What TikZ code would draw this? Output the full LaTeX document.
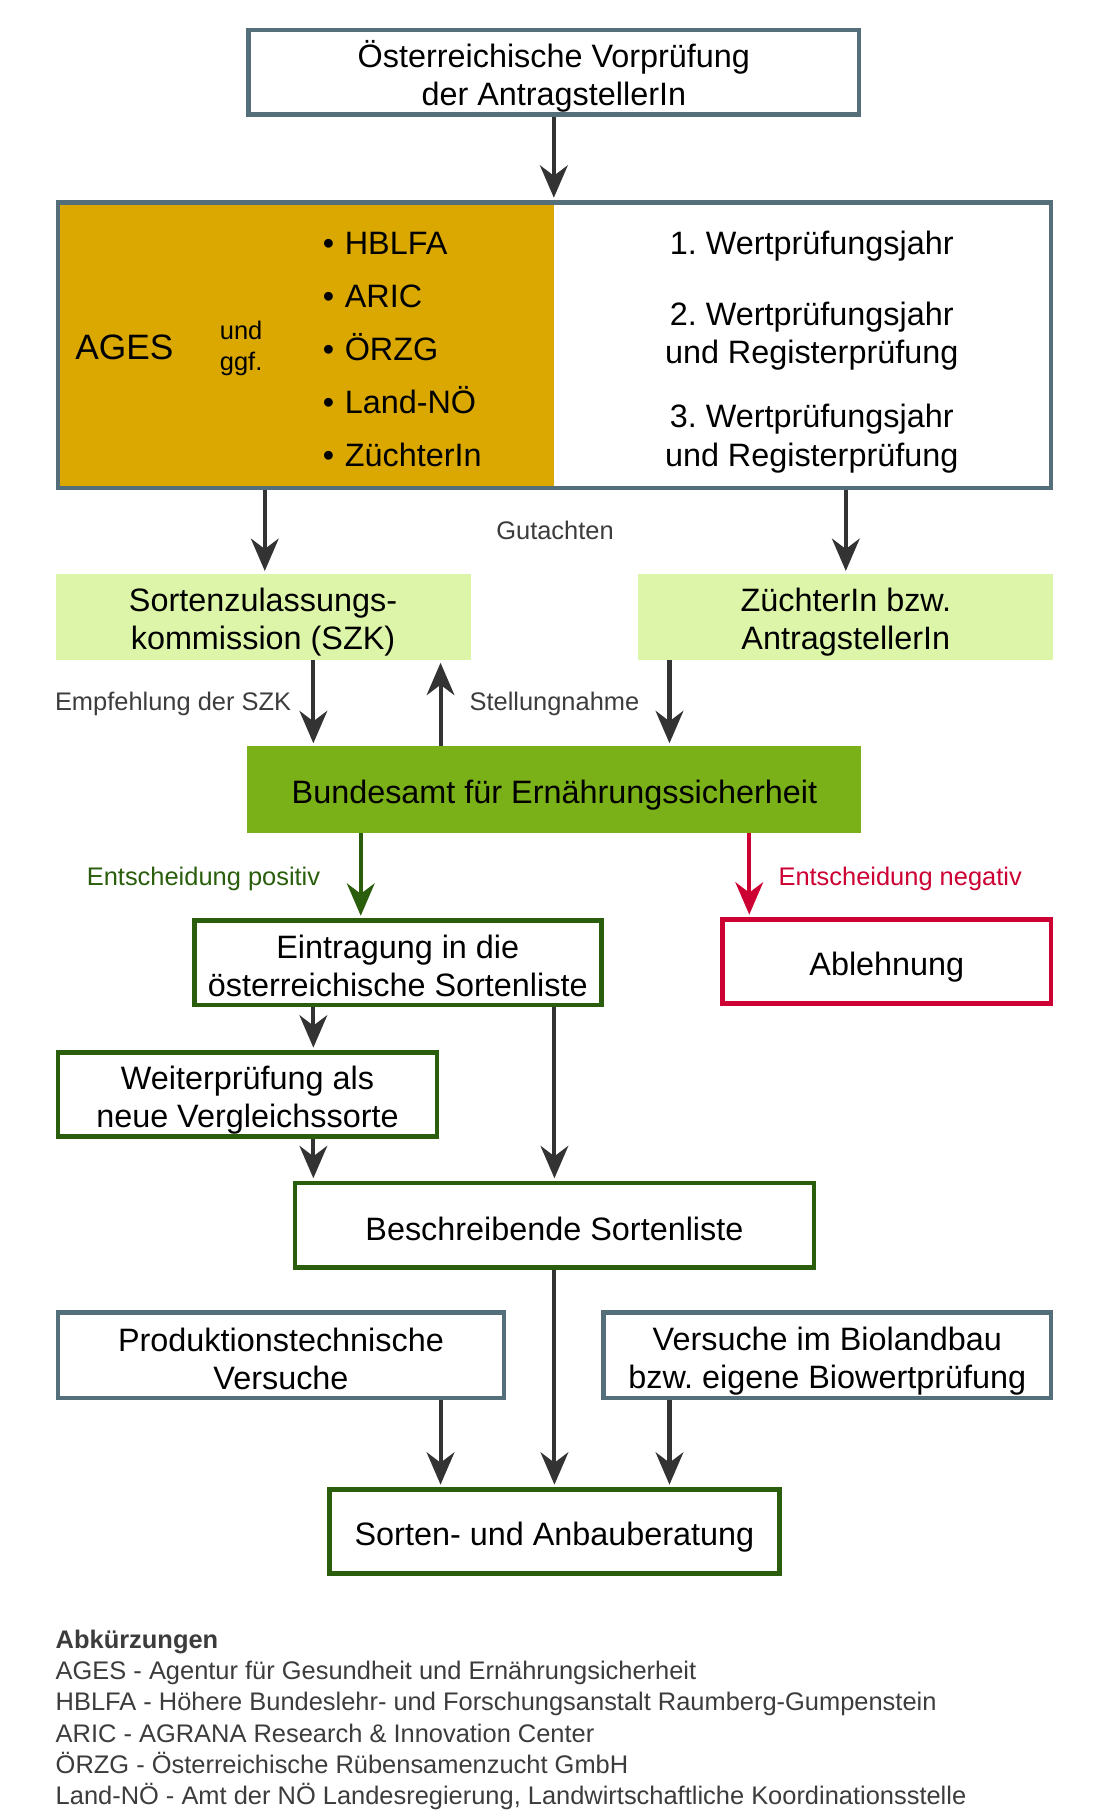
\documentclass[tikz,border=0pt]{standalone}
\usepackage{fontspec}
\setmainfont{Liberation Sans}
\usetikzlibrary{arrows.meta}
\definecolor{slate}{HTML}{546E7A}
\definecolor{gold}{HTML}{DAA800}
\definecolor{lightgreen}{HTML}{DCF5A8}
\definecolor{bfegreen}{HTML}{7AB018}
\definecolor{darkgreen}{HTML}{2A5E0C}
\definecolor{darkred}{HTML}{CC0033}
\definecolor{arrowgray}{HTML}{333333}
\definecolor{labelgray}{HTML}{3C3C3C}
\newcommand{\bxstrut}{\rule[-4.2pt]{0pt}{34.2pt}}
\frenchspacing
\begin{document}
\begin{tikzpicture}[x=1pt,y=-1pt,
    txt/.style={font=\fontsize{28}{33}\selectfont, align=center, inner sep=0pt,
      execute at begin node=\bxstrut, execute at end node=\bxstrut},
    box/.style={txt, draw=slate, line width=4pt, fill=white},
    greenbox/.style={box, draw=darkgreen},
    fillbox/.style={txt, draw=none},
    lbl/.style={font=\fontsize{22}{27}\selectfont, inner sep=0pt, text=labelgray},
    arr/.style={draw=arrowgray, line width=3.5pt, shorten >=2pt,
      -{Stealth[length=28pt,width=24pt,inset=9pt]}}
  ]
  \useasboundingbox (0,0) rectangle (960,1569.7);

  \node[box, minimum width=528pt, minimum height=73pt] (vor) at (479,62.5)
    {\bxstrut Österreichische Vorprüfung\\der AntragstellerIn};

  \node[box, fill=none, minimum width=859pt, minimum height=247pt,
    path picture={\fill[gold] (path picture bounding box.north west)
      rectangle (path picture bounding box.south);}] (big) at (479.5,298.5) {};
  \node[txt, anchor=base west, font=\fontsize{30.5}{36}\selectfont] (ages) at (65,311) {AGES};
  \node[lbl, text=black, anchor=west, align=left] (ggf) at (190,301.5) {und\\ggf.};
  \foreach \inst [count=\i] in {HBLFA,ARIC,ÖRZG,Land-NÖ,ZüchterIn}
    \node[txt, anchor=base west] (inst\i) at (279,174.5+45.75*\i)
      {\makebox[19pt][l]{\textbullet}\inst};
  \node[txt] (wp1) at (702,208) {1. Wertprüfungsjahr};
  \node[txt] (wp2) at (702,285.5) {\bxstrut 2. Wertprüfungsjahr\\und Registerprüfung};
  \node[txt] (wp3) at (702,374.5) {\bxstrut 3. Wertprüfungsjahr\\und Registerprüfung};

  \node[fillbox, fill=lightgreen, minimum width=359pt, minimum height=75pt] (szk)
    at (227.5,533.5) {\bxstrut Sortenzulassungs-\\kommission (SZK)};
  \node[fillbox, fill=lightgreen, minimum width=359pt, minimum height=75pt] (zuechter)
    at (731.5,533.5) {\bxstrut ZüchterIn bzw.\\AntragstellerIn};
  \node[fillbox, fill=bfegreen, minimum width=531pt, minimum height=75pt] (bfe)
    at (479.5,682.5) {Bundesamt für Ernährungssicherheit};

  \node[greenbox, minimum width=352pt, minimum height=73pt] (eintrag) at (344,832.5)
    {\bxstrut Eintragung in die\\österreichische Sortenliste};
  \node[box, draw=darkred, minimum width=284pt, minimum height=73pt] (ablehnung)
    at (767,831.5) {Ablehnung};
  \node[greenbox, minimum width=328pt, minimum height=73pt] (weiter) at (214,946.5)
    {\bxstrut Weiterprüfung als\\neue Vergleichssorte};
  \node[greenbox, minimum width=449pt, minimum height=73pt] (besch) at (479.5,1059.5)
    {Beschreibende Sortenliste};
  \node[box, minimum width=386pt, minimum height=74pt] (prod) at (243,1172)
    {\bxstrut Produktionstechnische\\Versuche};
  \node[box, minimum width=387pt, minimum height=74pt] (bio) at (715.5,1172)
    {\bxstrut Versuche im Biolandbau\\bzw. eigene Biowertprüfung};
  \node[greenbox, minimum width=389pt, minimum height=73pt] (sorten) at (479.5,1324.5)
    {Sorten- und Anbauberatung};

  \draw[arr] (vor.south) -- (vor.south |- big.north);
  \draw[arr] ([xshift=1.5pt]szk.north |- big.south) -- ([xshift=1.5pt]szk.north);
  \draw[arr] (zuechter.north |- big.south) -- (zuechter.north);
  \draw[arr] ([xshift=43.5pt]szk.south) -- ([xshift=43.5pt]szk.south |- bfe.north);
  \draw[arr] ([xshift=-98.5pt]bfe.north) -- ([xshift=-98.5pt]bfe.north |- szk.south);
  \draw[arr] ([xshift=-152.5pt]zuechter.south) -- ([xshift=-152.5pt]zuechter.south |- bfe.north);
  \draw[arr, draw=darkgreen] ([xshift=-32pt]eintrag.north |- bfe.south) -- ([xshift=-32pt]eintrag.north);
  \draw[arr, draw=darkred] ([xshift=-119pt]ablehnung.north |- bfe.south) -- ([xshift=-119pt]ablehnung.north);
  \draw[arr] ([xshift=57pt]weiter.north |- eintrag.south) -- ([xshift=57pt]weiter.north);
  \draw[arr] ([xshift=57pt]weiter.south) -- ([xshift=57pt]weiter.south |- besch.north);
  \draw[arr] (besch.north |- eintrag.south) -- (besch.north);
  \draw[arr] (besch.south) -- (sorten.north);
  \draw[arr] ([xshift=138pt]prod.south) -- ([xshift=138pt]prod.south |- sorten.north);
  \draw[arr] ([xshift=-136.5pt]bio.south) -- ([xshift=-136.5pt]bio.south |- sorten.north);

  \node[lbl] (gutachten) at (480,459) {Gutachten};
  \node[lbl, anchor=east] (empfehlung) at (252,609) {Empfehlung der SZK};
  \node[lbl] (stellung) at (479.5,609) {Stellungnahme};
  \node[lbl, text=darkgreen] (positiv) at (176,760) {Entscheidung positiv};
  \node[lbl, text=darkred] (negativ) at (778.5,760) {Entscheidung negativ};

  \node[lbl, anchor=north west, align=left] (abk) at (48,1409.5)
    {\textbf{Abkürzungen}\\
     AGES - Agentur für Gesundheit und Ernährungsicherheit\\
     HBLFA - Höhere Bundeslehr- und Forschungsanstalt Raumberg-Gumpenstein\\
     ARIC - AGRANA Research \& Innovation Center\\
     ÖRZG - Österreichische Rübensamenzucht GmbH\\
     Land-NÖ - Amt der NÖ Landesregierung, Landwirtschaftliche Koordinationsstelle};
\end{tikzpicture}
\end{document}
